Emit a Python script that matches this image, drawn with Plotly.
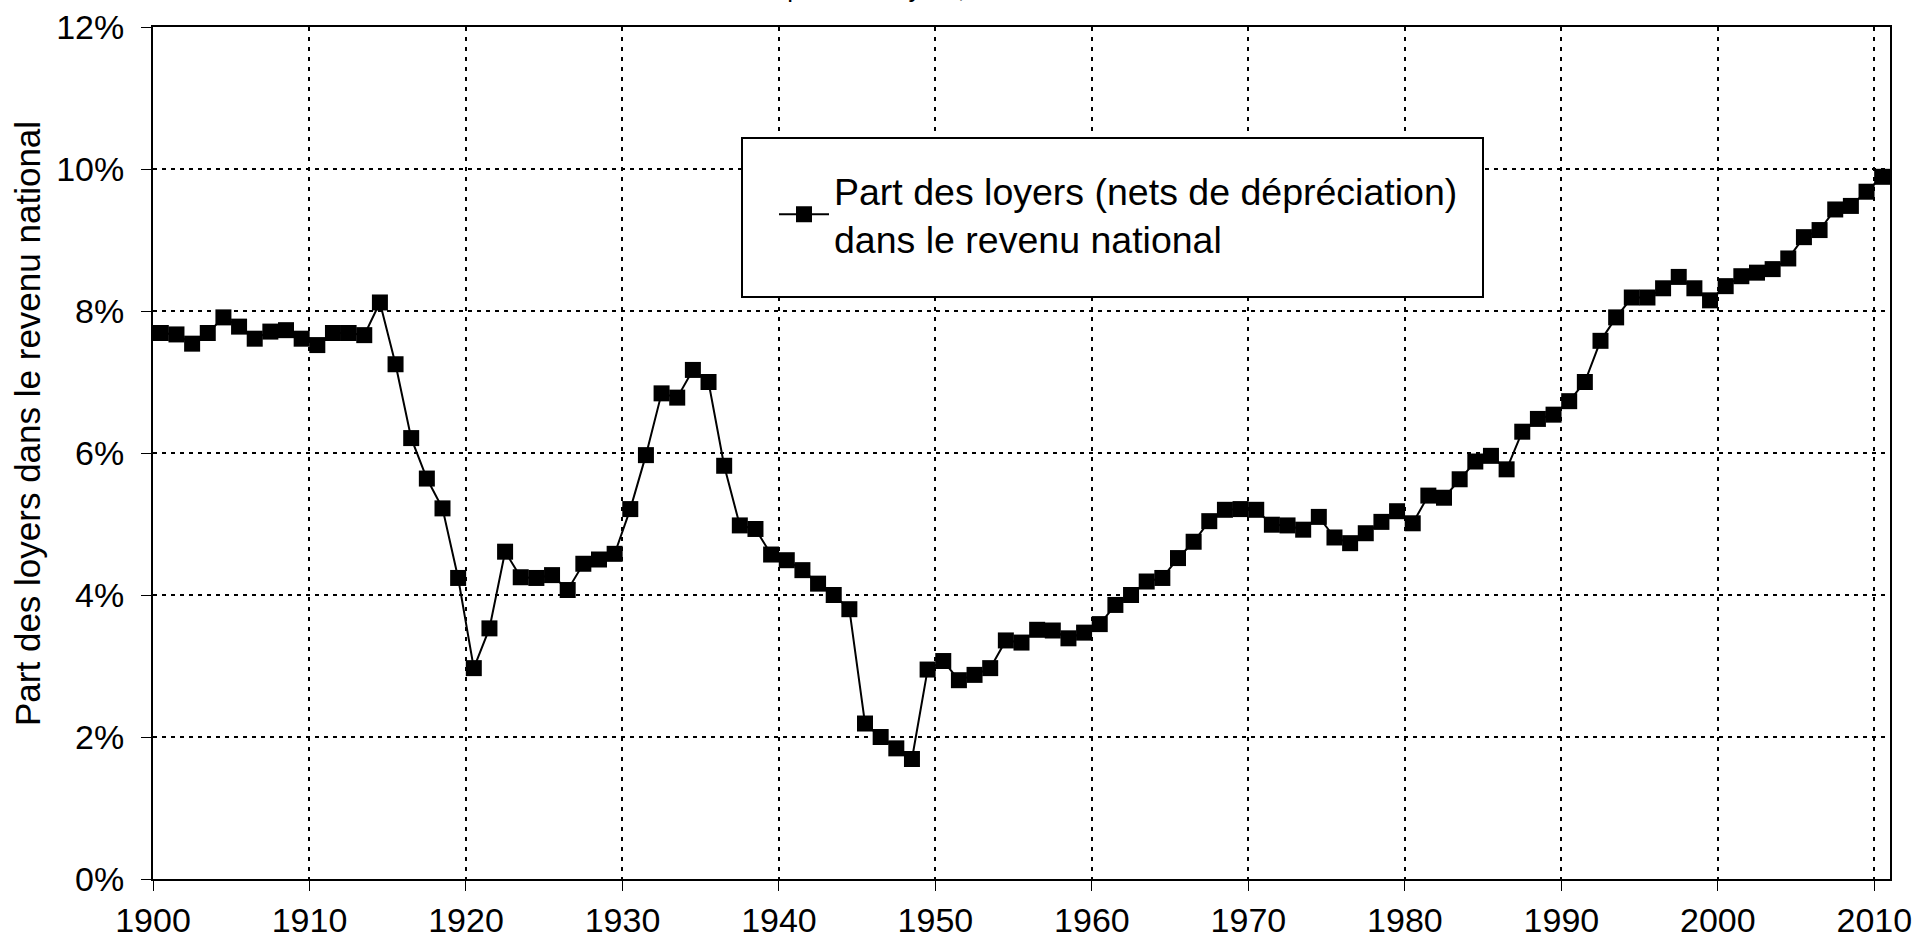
import plotly.graph_objects as go

years = list(range(1900, 2011))
rent_share = [
    7.69, 7.67, 7.54, 7.69, 7.91, 7.78, 7.61, 7.71, 7.73, 7.61,
    7.52, 7.69, 7.69, 7.66, 8.12, 7.25, 6.21, 5.64, 5.22, 4.24,
    2.97, 3.53, 4.61, 4.25, 4.24, 4.28, 4.07, 4.44, 4.50, 4.58,
    5.21, 5.97, 6.84, 6.78, 7.17, 7.00, 5.82, 4.98, 4.93, 4.57,
    4.49, 4.35, 4.16, 4.00, 3.80, 2.19, 2.00, 1.84, 1.69, 2.95,
    3.07, 2.80, 2.875, 2.97, 3.36, 3.33, 3.51, 3.50, 3.39, 3.47,
    3.59, 3.86, 4.00, 4.19, 4.24, 4.52, 4.75, 5.04, 5.20, 5.21,
    5.20, 4.99, 4.98, 4.92, 5.10, 4.81, 4.73, 4.87, 5.03, 5.18,
    5.01, 5.40, 5.37, 5.63, 5.88, 5.96, 5.77, 6.30, 6.48, 6.54,
    6.73, 7.00, 7.58, 7.91, 8.19, 8.19, 8.32, 8.48, 8.32, 8.15,
    8.35, 8.49, 8.54, 8.59, 8.74, 9.04, 9.14, 9.43, 9.48, 9.68,
    9.89,
]
x_tick_years = list(range(1900, 2011, 10))
x_tick_labels = [str(y) for y in x_tick_years]
y_tick_values = [0, 2, 4, 6, 8, 10, 12]
y_tick_labels = [f"{v}%" for v in y_tick_values]

series_name = "Part des loyers (nets de dépréciation)<br>dans le revenu national"
y_title = "Part des loyers dans le revenu national"
chart_title = "La part des loyers, France 1900-2010"

FONT = "Liberation Sans, Arial, sans-serif"

fig = go.Figure()
fig.add_trace(go.Scatter(
    x=years, y=rent_share, mode="lines+markers", name=series_name,
    line=dict(color="black", width=2),
    marker=dict(symbol="square", size=16, color="black"),
))

# category boundaries: label "1900" sits at left edge of the 1900 category
fig.update_xaxes(
    range=[1899.5, 2010.5],
    tickvals=[y - 0.5 for y in x_tick_years], ticktext=x_tick_labels,
    showline=True, linecolor="black", linewidth=2, mirror=True,
    ticks="outside", ticklen=10, tickwidth=1, tickcolor="black",
    showgrid=True, gridcolor="black", gridwidth=2, griddash="4px,6px",
    zeroline=False, automargin=False,
    tickfont=dict(family=FONT, size=34, color="black"),
    ticklabelstandoff=0,
)
fig.update_yaxes(
    range=[0, 12], tickvals=y_tick_values, ticktext=y_tick_labels,
    showline=True, linecolor="black", linewidth=2, mirror=True,
    ticks="outside", ticklen=10, tickwidth=1, tickcolor="black",
    showgrid=True, gridcolor="black", gridwidth=2, griddash="4px,5px",
    zeroline=False, automargin=False,
    tickfont=dict(family=FONT, size=34, color="black"),
    ticklabelstandoff=10,
)

W, H = 1927, 949
L, R, T, B = 153, 37, 27, 70
pw, ph = W - L - R, H - T - B

def px_x(x):
    return (x - L) / pw

def px_y(y):
    return (H - B - y) / ph

# legend box
fig.add_shape(type="rect", xref="paper", yref="paper",
              x0=px_x(742), x1=px_x(1483), y0=px_y(297), y1=px_y(138),
              line=dict(color="black", width=2), fillcolor="white", layer="above")

fig.add_annotation(text=y_title, xref="paper", yref="paper",
                   x=px_x(27), y=px_y(424), textangle=-90, showarrow=False,
                   xanchor="center", yanchor="middle",
                   font=dict(family=FONT, size=35, color="black"))

fig.add_annotation(text=chart_title, xref="paper", yref="paper",
                   x=px_x(968), y=px_y(5), showarrow=False,
                   xanchor="center", yanchor="bottom",
                   font=dict(family=FONT, size=26, color="black"))

fig.update_layout(
    width=W, height=H,
    margin=dict(l=L, r=R, t=T, b=B, autoexpand=False),
    paper_bgcolor="white", plot_bgcolor="white",
    showlegend=True,
    legend=dict(x=px_x(774), y=px_y(159), xanchor="left", yanchor="top",
                bgcolor="rgba(0,0,0,0)", borderwidth=0,
                font=dict(family=FONT, size=37.5, color="black"),
                itemwidth=50),
    font=dict(family=FONT, color="black"),
)

fig.write_html("out.html",
               config={"displayModeBar": False},
               post_script="document.body.style.margin='0';document.body.style.overflow='hidden';")
